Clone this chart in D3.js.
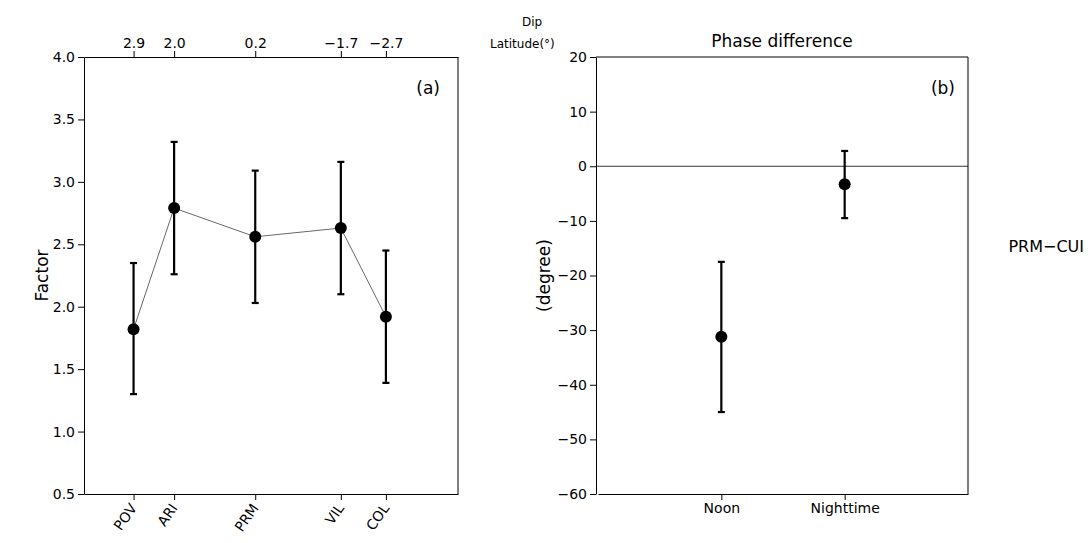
<!DOCTYPE html>
<html><head><meta charset="utf-8">
<script src="https://d3js.org/d3.v7.min.js"></script>
<style>body{margin:0;background:#fff;} text{font-family:"DejaVu Sans",sans-serif;}</style>
</head><body><div id="chart"></div>
<script>
var stations = ["POV", "ARI", "PRM", "VIL", "COL"];
var dipLat = [2.9, 2.0, 0.2, -1.7, -2.7];
var dipLabels = ["2.9", "2.0", "0.2", "\u22121.7", "\u22122.7"];
var factor = [1.82, 2.79, 2.56, 2.63, 1.92];
var factorLow = [1.30, 2.26, 2.03, 2.10, 1.39];
var factorHigh = [2.35, 3.32, 3.09, 3.16, 2.45];
var phaseCats = ["Noon", "Nighttime"];
var phase = [-31.2, -3.3];
var phaseLow = [-45.0, -9.5];
var phaseHigh = [-17.5, 2.8];

var svg = d3.select("#chart").append("svg").attr("width", 1088).attr("height", 543);
var topY = 57, bottomY = 494;

// panel (a)
var xA = d3.scaleLinear().domain([4.0, -4.3]).range([84, 458]);
var yA = d3.scaleLinear().domain([0.5, 4.0]).range([bottomY, topY]);
svg.append("g").attr("transform", "translate(84,0)")
  .call(d3.axisLeft(yA).tickValues(d3.range(0.5, 4.01, 0.5)).tickFormat(d3.format(".1f")).tickSizeOuter(0));
svg.append("g").attr("transform", "translate(0," + bottomY + ")")
  .call(d3.axisBottom(xA).tickValues(dipLat).tickFormat("").tickSizeOuter(0));
svg.append("g").attr("transform", "translate(0," + topY + ")")
  .call(d3.axisTop(xA).tickValues(dipLat).tickFormat((d, i) => dipLabels[i]).tickSizeOuter(0));
svg.append("line").attr("x1", 458).attr("x2", 458).attr("y1", topY).attr("y2", bottomY).attr("stroke", "#000");
stations.forEach(function (s, i) {
  svg.append("text").attr("transform", "translate(" + (xA(dipLat[i]) + 4) + "," + (bottomY + 14) + ") rotate(-55)")
    .attr("text-anchor", "end").attr("font-size", 14).text(s);
});
svg.append("path").datum(factor)
  .attr("d", d3.line().x((d, i) => xA(dipLat[i])).y(d => yA(d)))
  .attr("fill", "none").attr("stroke", "#000").attr("stroke-width", 0.6);
factor.forEach(function (v, i) {
  var x = xA(dipLat[i]);
  svg.append("line").attr("x1", x).attr("x2", x).attr("y1", yA(factorLow[i])).attr("y2", yA(factorHigh[i])).attr("stroke", "#000").attr("stroke-width", 2.2);
  [factorLow[i], factorHigh[i]].forEach(function (c) {
    svg.append("line").attr("x1", x - 3.5).attr("x2", x + 3.5).attr("y1", yA(c)).attr("y2", yA(c)).attr("stroke", "#000").attr("stroke-width", 2.2);
  });
  svg.append("circle").attr("cx", x).attr("cy", yA(v)).attr("r", 6).attr("fill", "#000");
});
svg.append("text").attr("transform", "translate(48," + ((topY + bottomY) / 2) + ") rotate(-90)").attr("text-anchor", "middle").attr("font-size", 17).text("Factor");
svg.append("text").attr("x", 440).attr("y", 94).attr("text-anchor", "end").attr("font-size", 17).text("(a)");
svg.append("text").attr("x", 532).attr("y", 26).attr("text-anchor", "middle").attr("font-size", 12).text("Dip");
svg.append("text").attr("x", 490).attr("y", 48).attr("font-size", 12).text("Latitude(\u00b0)");

// panel (b)
var xB = d3.scaleLinear().domain([0, 3]).range([598, 968]);
var yB = d3.scaleLinear().domain([-60, 20]).range([bottomY, topY]);
svg.append("g").attr("transform", "translate(596,0)")
  .call(d3.axisLeft(yB).tickValues(d3.range(-60, 21, 10)).tickFormat(d => d < 0 ? "\u2212" + Math.abs(d) : d).tickSizeOuter(0));
svg.append("g").attr("transform", "translate(0," + bottomY + ")")
  .call(d3.axisBottom(xB).tickValues([1, 2]).tickFormat((d, i) => phaseCats[i]).tickSizeOuter(0));
svg.append("line").attr("x1", 596).attr("x2", 968).attr("y1", topY).attr("y2", topY).attr("stroke", "#000");
svg.append("line").attr("x1", 968).attr("x2", 968).attr("y1", topY).attr("y2", bottomY).attr("stroke", "#000");
svg.append("line").attr("x1", 596).attr("x2", 968).attr("y1", yB(0)).attr("y2", yB(0)).attr("stroke", "#000").attr("stroke-width", 0.8);
phase.forEach(function (v, i) {
  var x = xB(i + 1);
  svg.append("line").attr("x1", x).attr("x2", x).attr("y1", yB(phaseLow[i])).attr("y2", yB(phaseHigh[i])).attr("stroke", "#000").attr("stroke-width", 2.2);
  [phaseLow[i], phaseHigh[i]].forEach(function (c) {
    svg.append("line").attr("x1", x - 3.5).attr("x2", x + 3.5).attr("y1", yB(c)).attr("y2", yB(c)).attr("stroke", "#000").attr("stroke-width", 2.2);
  });
  svg.append("circle").attr("cx", x).attr("cy", yB(v)).attr("r", 6).attr("fill", "#000");
});
svg.append("text").attr("transform", "translate(550," + ((topY + bottomY) / 2) + ") rotate(-90)").attr("text-anchor", "middle").attr("font-size", 17).text("(degree)");
svg.append("text").attr("x", 955).attr("y", 94).attr("text-anchor", "end").attr("font-size", 17).text("(b)");
svg.append("text").attr("x", 782).attr("y", 47).attr("text-anchor", "middle").attr("font-size", 17).text("Phase difference");
svg.append("text").attr("x", 1084).attr("y", 252).attr("text-anchor", "end").attr("font-size", 16).text("PRM\u2212CUI");

svg.selectAll(".tick text").attr("font-size", 14).attr("fill", "#000").style("font-family", "DejaVu Sans");
svg.selectAll(".domain, .tick line").attr("stroke", "#000");
</script></body></html>
